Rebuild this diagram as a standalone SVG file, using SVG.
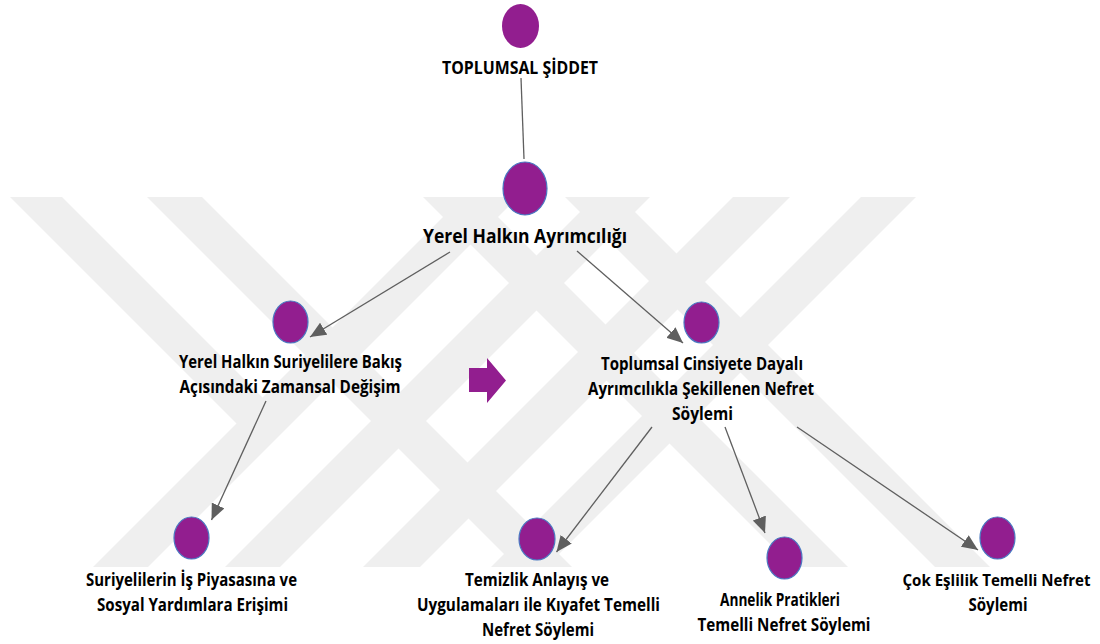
<svg xmlns="http://www.w3.org/2000/svg" width="1100" height="644" viewBox="0 0 1100 644">
<defs>
<style>
.wm{fill:#efefef}
.node{fill:#921e8f;stroke:#4a79c2;stroke-width:1.2}
.node0{fill:#921e8f}
.lbl{font-family:"Open Sans","Noto Sans","Liberation Sans",sans-serif;font-weight:700;font-size:17px;fill:#000;text-anchor:middle}
.big{font-size:20px}
.edge{stroke:#5f5f5f;stroke-width:1.3;fill:none}
.arr{marker-end:url(#ah)}
</style>
<marker id="ah" markerUnits="userSpaceOnUse" markerWidth="16" markerHeight="14" viewBox="0 0 16 14" refX="16" refY="7" orient="auto">
<path d="M0,0 L16,7 L0,14 Z" fill="#5f5f5f"/>
</marker>
<clipPath id="wmclip"><rect x="0" y="197" width="1100" height="370"/></clipPath>
</defs>
<rect width="1100" height="644" fill="#ffffff"/>
<g id="watermark" clip-path="url(#wmclip)">
<polygon class="wm" points="463,197 518,197 148,567 93,567"/>
<polygon class="wm" points="595,197 650,197 280,567 225,567"/>
<polygon class="wm" points="733,197 790,197 420,567 363,567"/>
<polygon class="wm" points="861,197 916,197 546,567 491,567"/>
<polygon class="wm" points="10,197 62,197 277.5,412.5 251.5,438.5"/>
<polygon class="wm" points="147,197 202,197 572,567 517,567"/>
<polygon class="wm" points="423,197 478,197 848,567 793,567"/>
<polygon class="wm" points="565,197 620,197 990,567 935,567"/>
</g>
<g id="connectors">
<line class="edge" x1="521" y1="78" x2="524" y2="159"/>
<line class="edge arr" x1="450" y1="252" x2="310" y2="337"/>
<line class="edge arr" x1="577" y1="251" x2="683" y2="343"/>
<line class="edge arr" x1="266" y1="401" x2="211.5" y2="520"/>
<line class="edge arr" x1="652" y1="427" x2="556.5" y2="552"/>
<line class="edge arr" x1="725" y1="427" x2="765" y2="533"/>
<line class="edge arr" x1="797" y1="427" x2="978" y2="550"/>
</g>
<g id="block-arrow">
<polygon points="469,368 487,368 487,358 506,380.5 487,403 487,392 469,392" fill="#921e8f"/>
</g>
<g id="n1">
<ellipse class="node0" cx="520.5" cy="26" rx="18.5" ry="22"/>
<text class="lbl" x="520" y="73.5" textLength="156" lengthAdjust="spacingAndGlyphs">TOPLUMSAL ŞİDDET</text>
</g>
<g id="n2">
<ellipse class="node" cx="525" cy="188.5" rx="22" ry="26.5"/>
<text class="lbl big" x="525" y="243" textLength="204" lengthAdjust="spacingAndGlyphs">Yerel Halkın Ayrımcılığı</text>
</g>
<g id="n3">
<ellipse class="node" cx="290.5" cy="322" rx="17.5" ry="21"/>
<text class="lbl" x="290.5" y="368" textLength="223" lengthAdjust="spacingAndGlyphs">Yerel Halkın Suriyelilere Bakış</text>
<text class="lbl" x="290" y="393" textLength="221" lengthAdjust="spacingAndGlyphs">Açısındaki Zamansal Değişim</text>
</g>
<g id="n4">
<ellipse class="node" cx="701.5" cy="322.5" rx="17.5" ry="20.5"/>
<text class="lbl" x="702" y="370" textLength="202" lengthAdjust="spacingAndGlyphs">Toplumsal Cinsiyete Dayalı</text>
<text class="lbl" x="701" y="395" textLength="226" lengthAdjust="spacingAndGlyphs">Ayrımcılıkla Şekillenen Nefret</text>
<text class="lbl" x="702.5" y="420" textLength="61" lengthAdjust="spacingAndGlyphs">Söylemi</text>
</g>
<g id="n5">
<ellipse class="node" cx="191.5" cy="538" rx="17.5" ry="21"/>
<text class="lbl" x="191.5" y="586" textLength="211" lengthAdjust="spacingAndGlyphs">Suriyelilerin İş Piyasasına ve</text>
<text class="lbl" x="192.5" y="611" textLength="191" lengthAdjust="spacingAndGlyphs">Sosyal Yardımlara Erişimi</text>
</g>
<g id="n6">
<ellipse class="node" cx="537" cy="539" rx="18" ry="21"/>
<text class="lbl" x="537" y="586" textLength="144" lengthAdjust="spacingAndGlyphs">Temizlik Anlayış ve</text>
<text class="lbl" x="538.5" y="611" textLength="243" lengthAdjust="spacingAndGlyphs">Uygulamaları ile Kıyafet Temelli</text>
<text class="lbl" x="538" y="636" textLength="112" lengthAdjust="spacingAndGlyphs">Nefret Söylemi</text>
</g>
<g id="n7">
<ellipse class="node" cx="784.5" cy="558" rx="17.5" ry="21"/>
<text class="lbl" x="780" y="606" textLength="120" lengthAdjust="spacingAndGlyphs">Annelik Pratikleri</text>
<text class="lbl" x="784" y="631" textLength="173" lengthAdjust="spacingAndGlyphs">Temelli Nefret Söylemi</text>
</g>
<g id="n8">
<ellipse class="node" cx="997.5" cy="538" rx="17.5" ry="21"/>
<text class="lbl" x="996.5" y="586" textLength="188" lengthAdjust="spacingAndGlyphs" style="font-size:16px">Çok Eşlilik Temelli Nefret</text>
<text class="lbl" x="998" y="611" textLength="59" lengthAdjust="spacingAndGlyphs">Söylemi</text>
</g>
</svg>
